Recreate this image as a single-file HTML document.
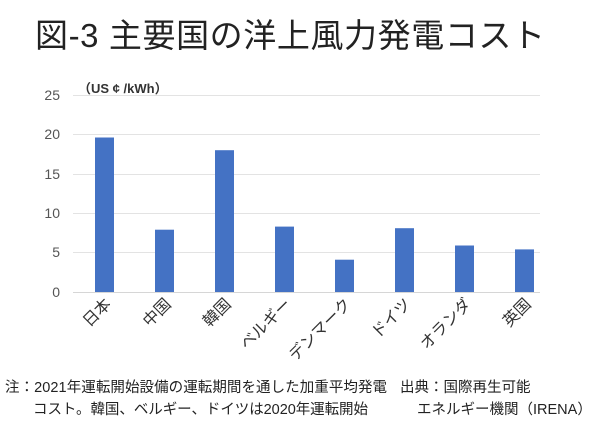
<!DOCTYPE html>
<html><head><meta charset="utf-8"><style>
body{margin:0;background:#fff;}
svg{display:block;font-family:"Liberation Sans","Noto Sans CJK JP",sans-serif;}
</style></head><body>
<svg width="600" height="428" viewBox="0 0 600 428">
<text x="35" y="47" font-size="33" fill="#222" textLength="510" lengthAdjust="spacing">図-3 主要国の洋上風力発電コスト</text>
<g stroke="#e3e3e3" stroke-width="1">
<line x1="73" x2="540" y1="95.5" y2="95.5"/>
<line x1="73" x2="540" y1="134.5" y2="134.5"/>
<line x1="73" x2="540" y1="174.5" y2="174.5"/>
<line x1="73" x2="540" y1="213.5" y2="213.5"/>
<line x1="73" x2="540" y1="252.5" y2="252.5"/>
<line x1="73" x2="540" y1="292.5" y2="292.5" stroke="#d6d6d6"/>
</g>
<g font-size="14" fill="#555" text-anchor="end">
<text x="60" y="100">25</text><text x="60" y="139">20</text><text x="60" y="179">15</text>
<text x="60" y="218">10</text><text x="60" y="257">5</text><text x="60" y="297">0</text>
</g>
<text x="78" y="93" font-size="13" font-weight="bold" fill="#333">（US ¢ /kWh）</text>
<g fill="#4472c4">
<rect x="95" y="137.5" width="19" height="154.5"/>
<rect x="155" y="229.7" width="19" height="62.3"/>
<rect x="215" y="150.2" width="19" height="141.8"/>
<rect x="275" y="226.6" width="19" height="65.4"/>
<rect x="335" y="259.7" width="19" height="32.3"/>
<rect x="395" y="228.2" width="19" height="63.8"/>
<rect x="455" y="245.5" width="19" height="46.5"/>
<rect x="515" y="249.4" width="19" height="42.6"/>
</g>
<g font-size="16" fill="#333" text-anchor="end">
<text transform="translate(112,305) rotate(-45)">日本</text>
<text transform="translate(172,305) rotate(-45)">中国</text>
<text transform="translate(232,305) rotate(-45)">韓国</text>
<text transform="translate(292,305) rotate(-45)">ベルギー</text>
<text transform="translate(352,305) rotate(-45)">デンマーク</text>
<text transform="translate(412,305) rotate(-45)">ドイツ</text>
<text transform="translate(472,305) rotate(-45)">オランダ</text>
<text transform="translate(532,305) rotate(-45)">英国</text>
</g>
<g font-size="14.5" fill="#222">
<text x="5" y="392" textLength="382" lengthAdjust="spacing">注：2021年運転開始設備の運転期間を通した加重平均発電</text>
<text x="33" y="414" textLength="335" lengthAdjust="spacing">コスト。韓国、ベルギー、ドイツは2020年運転開始</text>
<text x="400" y="392">出典：国際再生可能</text>
<text x="417" y="414">エネルギー機関（IRENA）</text>
</g>
</svg>
</body></html>
